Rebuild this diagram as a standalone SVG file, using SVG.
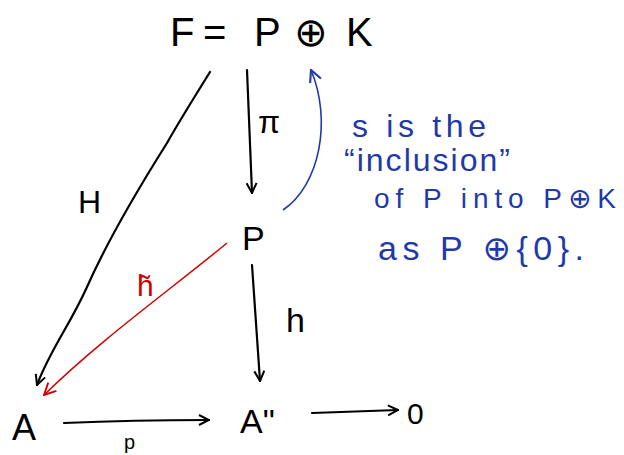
<svg xmlns="http://www.w3.org/2000/svg" width="624" height="455" viewBox="0 0 624 455">
<style>
.k{font-family:"Liberation Sans","DejaVu Sans",sans-serif;fill:#000}
.b{font-family:"Liberation Sans","DejaVu Sans",sans-serif;fill:#1f3aa8}
.r{font-family:"Liberation Sans","DejaVu Sans",sans-serif;fill:#d00000}
.e{fill:none;stroke:#000;stroke-width:2.2;stroke-linecap:round}
</style>
<defs>
<marker id="ak" viewBox="0 0 12 12" refX="11" refY="6" markerWidth="12" markerHeight="12" markerUnits="userSpaceOnUse" orient="auto"><path d="M1,1 L11,6 L1,11" fill="none" stroke="#000" stroke-width="2"/></marker>
<marker id="ab" viewBox="0 0 12 12" refX="11" refY="6" markerWidth="14" markerHeight="14" markerUnits="userSpaceOnUse" orient="auto"><path d="M1,1 L11,6 L1,11" fill="none" stroke="#1f3aa8" stroke-width="1.8"/></marker>
<marker id="ar" viewBox="0 0 12 12" refX="11" refY="6" markerWidth="14" markerHeight="14" markerUnits="userSpaceOnUse" orient="auto"><path d="M1,1 L11,6 L1,11" fill="none" stroke="#d00000" stroke-width="1.6"/></marker>
</defs>
<rect width="624" height="455" fill="#fff"/>
<g id="connectors">
<path class="e" d="M210,72 C200,88 180,120 167,143 C150,170 110,235 87,287 C70,325 50,350 37,385" marker-end="url(#ak)"/>
<path class="e" d="M247,70 L252,193" marker-end="url(#ak)"/>
<path class="e" d="M252,265 L260,381" marker-end="url(#ak)"/>
<path class="e" d="M64,423 C110,421 160,420 209,420" marker-end="url(#ak)"/>
<path class="e" d="M312,413 C340,412 370,411 398,410" marker-end="url(#ak)"/>
<path d="M283,210 C320,185 332,120 311,70" fill="none" stroke="#1f3aa8" stroke-width="1.6" marker-end="url(#ab)"/>
<path d="M227,243 C170,290 100,340 44,395" fill="none" stroke="#d00000" stroke-width="1.5" marker-end="url(#ar)"/>
</g>
<g id="F"><text class="k" y="46" font-size="40"><tspan x="170">F</tspan><tspan x="203">=</tspan><tspan x="254">P</tspan><tspan x="294">⊕</tspan><tspan x="346">K</tspan></text></g>
<g id="P"><text class="k" x="242" y="250" font-size="34">P</text></g>
<g id="A"><text class="k" x="12" y="440" font-size="36">A</text></g>
<g id="A2"><text class="k" x="240" y="433" font-size="34">A"</text></g>
<g id="Z"><text class="k" x="407" y="424" font-size="30">0</text></g>
<g id="labels">
<text class="k" x="78" y="213" font-size="32">H</text>
<text class="k" x="258" y="133" font-size="32">π</text>
<text class="k" x="286" y="332" font-size="34">h</text>
<text class="k" x="124" y="449" font-size="20">p</text>
<text class="r" x="137" y="296" font-size="30">h̃</text>
</g>
<g id="note">
<text class="b" x="352" y="137" font-size="32" textLength="134" lengthAdjust="spacing">s  is the</text>
<text class="b" x="344" y="171" font-size="32" textLength="166" lengthAdjust="spacing">“inclusion”</text>
<text class="b" x="374" y="208" font-size="28" textLength="242" lengthAdjust="spacing">of  P  into  P⊕K</text>
<text class="b" x="378" y="260" font-size="34" textLength="206" lengthAdjust="spacing">as  P ⊕{0}.</text>
</g>
</svg>
